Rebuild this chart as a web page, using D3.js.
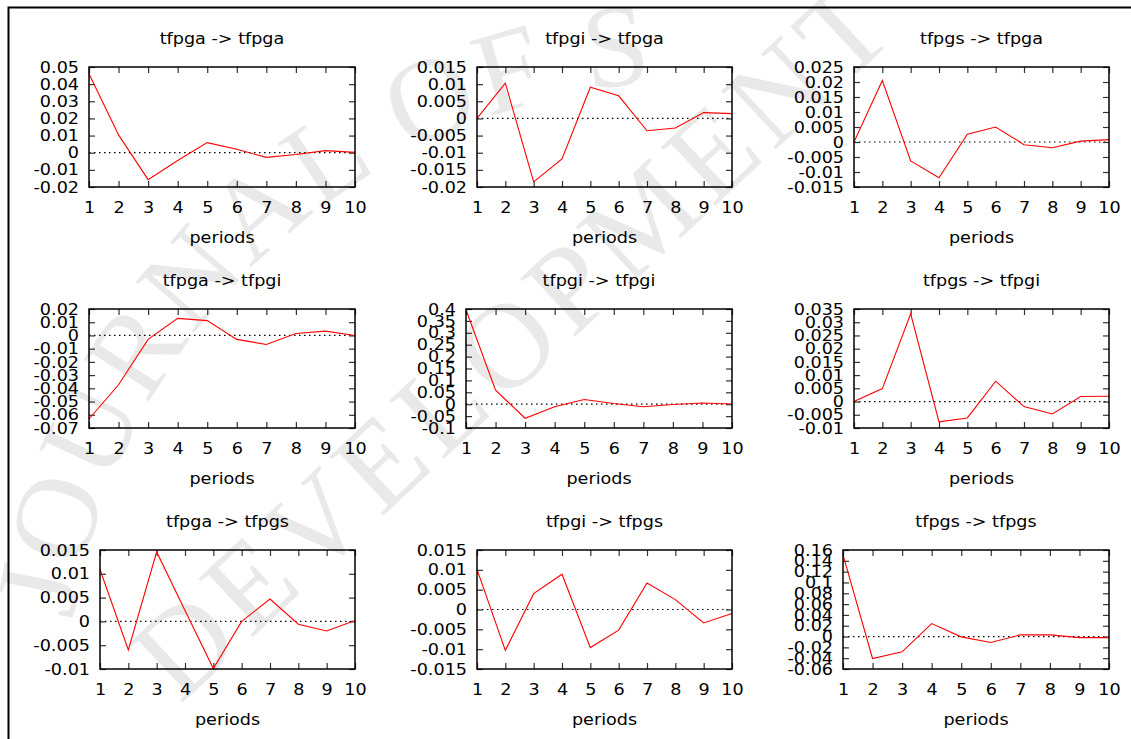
<!DOCTYPE html>
<html>
<head>
<meta charset="utf-8">
<script src="https://cdn.jsdelivr.net/npm/d3@7"></script>
<style>
  html, body { margin: 0; padding: 0; background: #fff; }
  svg { display: block; }
  text { font-family: "DejaVu Sans", Verdana, sans-serif; font-size: 16px; fill: #000; }
</style>
</head>
<body>
<svg id="chart" width="1131" height="739"></svg>
<script>
// ---------------- data ----------------
const periods = [1, 2, 3, 4, 5, 6, 7, 8, 9, 10];
const variables = ["tfpga", "tfpgi", "tfpgs"];

// response of row-variable to shock in column-variable
const tfpga_tfpga = [0.046, 0.0104, -0.0157, -0.0045, 0.0059, 0.002, -0.0027, -0.001, 0.0012, 0.0002];
const tfpgi_tfpga = [0, 0.0103, -0.0185, -0.0118, 0.0091, 0.0066, -0.0036, -0.0028, 0.0017, 0.0014];
const tfpgs_tfpga = [0, 0.0205, -0.0063, -0.0119, 0.0026, 0.005, -0.0009, -0.0019, 0.0003, 0.0008];
const tfpga_tfpgi = [-0.0632, -0.0373, -0.003, 0.0129, 0.0112, -0.003, -0.0068, 0.0015, 0.0033, 0];
const tfpgi_tfpgi = [0.397, 0.059, -0.059, -0.011, 0.02, 0.003, -0.011, -0.001, 0.005, 0.001];
const tfpgs_tfpgi = [0, 0.0049, 0.0332, -0.0077, -0.0062, 0.0077, -0.0019, -0.0047, 0.0019, 0.002];
const tfpga_tfpgs = [0.0109, -0.006, 0.0146, 0.0023, -0.0099, 0, 0.0047, -0.0006, -0.002, 0.0002];
const tfpgi_tfpgs = [0.0101, -0.0103, 0.004, 0.0089, -0.0096, -0.0052, 0.0067, 0.0025, -0.0034, -0.001];
const tfpgs_tfpgs = [0.151, -0.0406, -0.0283, 0.024, -0.0006, -0.011, 0.003, 0.003, -0.002, -0.002];

// y tick labels per panel
const ticks_a_a = ["-0.02", "-0.01", "0", "0.01", "0.02", "0.03", "0.04", "0.05"];
const ticks_i_a = ["-0.02", "-0.015", "-0.01", "-0.005", "0", "0.005", "0.01", "0.015"];
const ticks_s_a = ["-0.015", "-0.01", "-0.005", "0", "0.005", "0.01", "0.015", "0.02", "0.025"];
const ticks_a_i = ["-0.07", "-0.06", "-0.05", "-0.04", "-0.03", "-0.02", "-0.01", "0", "0.01", "0.02"];
const ticks_i_i = ["-0.1", "-0.05", "0", "0.05", "0.1", "0.15", "0.2", "0.25", "0.3", "0.35", "0.4"];
const ticks_s_i = ["-0.01", "-0.005", "0", "0.005", "0.01", "0.015", "0.02", "0.025", "0.03", "0.035"];
const ticks_a_s = ["-0.01", "-0.005", "0", "0.005", "0.01", "0.015"];
const ticks_i_s = ["-0.015", "-0.01", "-0.005", "0", "0.005", "0.01", "0.015"];
const ticks_s_s = ["-0.06", "-0.04", "-0.02", "0", "0.02", "0.04", "0.06", "0.08", "0.1", "0.12", "0.14", "0.16"];

const xLabel = "periods";

// panels in reading order (row = response, col = impulse)
const panelSeries = [
  [tfpga_tfpga, ticks_a_a], [tfpgi_tfpga, ticks_i_a], [tfpgs_tfpga, ticks_s_a],
  [tfpga_tfpgi, ticks_a_i], [tfpgi_tfpgi, ticks_i_i], [tfpgs_tfpgi, ticks_s_i],
  [tfpga_tfpgs, ticks_a_s], [tfpgi_tfpgs, ticks_i_s], [tfpgs_tfpgs, ticks_s_s]
];

// ---------------- layout ----------------
const plotLeft = [89, 477, 854, 89, 466, 854, 100, 477, 843];
const plotRight = [355, 732, 1109];
const plotTop = [67, 309, 550];
const plotBottom = [187, 428, 669];
const SX = 1.1; // horizontal glyph stretch

const svg = d3.select("#chart");

// ---------------- watermark ----------------
const wm = svg.append("g").attr("class", "watermark");
const cx = 705, cy = 720, r = 640;
const a0 = 189 * Math.PI / 180, a1 = 300 * Math.PI / 180;
wm.append("path").attr("id", "arc1").attr("fill", "none")
  .attr("d", `M${cx + r * Math.cos(a0)},${cy + r * Math.sin(a0)} A${r},${r} 0 0 1 ${cx + r * Math.cos(a1)},${cy + r * Math.sin(a1)}`);
wm.append("text")
  .style("font-family", "'Liberation Serif', 'DejaVu Serif', serif")
  .style("font-size", "118px").style("fill", "#e9e9e9").style("letter-spacing", "4px")
  .append("textPath").attr("href", "#arc1").text("JOURNAL OF S");
wm.append("text")
  .attr("transform", "translate(180,705) rotate(-43)")
  .style("font-family", "'Liberation Serif', 'DejaVu Serif', serif")
  .style("font-size", "122px").style("fill", "#e9e9e9").style("letter-spacing", "8px")
  .text("DEVELOPMENT");

// outer frame (left + top)
svg.append("path").attr("d", "M8.5,739 L8.5,7.5 L1131,7.5")
  .attr("fill", "none").attr("stroke", "#000").attr("stroke-width", 2);

function stretchText(sel) {
  sel.each(function () {
    const t = d3.select(this);
    const x = +t.attr("x") || 0;
    t.attr("x", x / SX).attr("transform", `scale(${SX},1)`);
  });
}

panelSeries.forEach(([values, tickLabels], i) => {
  const row = Math.floor(i / 3), col = i % 3;
  const x0 = plotLeft[i], x1 = plotRight[col];
  const y0 = plotTop[row], y1 = plotBottom[row];
  const w = x1 - x0, h = y1 - y0;
  const tickVals = tickLabels.map(Number);

  const x = d3.scaleLinear().domain([periods[0], periods[periods.length - 1]]).range([0, w]);
  const y = d3.scaleLinear().domain([d3.min(tickVals), d3.max(tickVals)]).range([h, 0]);

  const g = svg.append("g").attr("transform", `translate(${x0},${y0})`);

  // title
  g.append("text")
    .attr("transform", `translate(${w / 2},-23) scale(${SX},1)`)
    .attr("text-anchor", "middle")
    .text(`${variables[col]} -> ${variables[row]}`);

  // zero line (dotted)
  g.append("line")
    .attr("x1", 0).attr("x2", w).attr("y1", y(0)).attr("y2", y(0))
    .attr("stroke", "#000").attr("stroke-width", 1.2)
    .attr("stroke-dasharray", "1.5,3.5");

  // axes with inward mirrored ticks
  const fmt = (d) => tickLabels[tickVals.indexOf(d)];
  const yl = g.append("g").call(d3.axisLeft(y).tickValues(tickVals).tickFormat(fmt)
    .tickSize(-6).tickSizeOuter(0).tickPadding(10));
  const yr = g.append("g").attr("transform", `translate(${w},0)`)
    .call(d3.axisRight(y).tickValues(tickVals).tickFormat("").tickSize(-6).tickSizeOuter(0));
  const xb = g.append("g").attr("transform", `translate(0,${h})`)
    .call(d3.axisBottom(x).tickValues(periods).tickFormat(d3.format("d"))
      .tickSize(-6).tickSizeOuter(0).tickPadding(15));
  const xt = g.append("g")
    .call(d3.axisTop(x).tickValues(periods).tickFormat("").tickSize(-6).tickSizeOuter(0));

  [yl, yr, xb, xt].forEach(a => {
    a.select(".domain").remove();
    a.selectAll(".tick line").attr("stroke", "#333").attr("stroke-width", 1.2);
    a.selectAll("text").attr("font-family", null).attr("font-size", null).style("fill", "#000");
  });
  stretchText(yl.selectAll(".tick text"));
  stretchText(xb.selectAll(".tick text"));

  // response line
  const line = d3.line().x((d, k) => x(periods[k])).y(d => y(d));
  g.append("path").datum(values)
    .attr("d", line).attr("fill", "none").attr("stroke", "#ff0000").attr("stroke-width", 1.1);

  // frame
  g.append("rect").attr("x", 0).attr("y", 0).attr("width", w).attr("height", h)
    .attr("fill", "none").attr("stroke", "#000").attr("stroke-width", 1.5);

  // x label
  g.append("text")
    .attr("transform", `translate(${w / 2},${h + 56}) scale(${SX},1)`)
    .attr("text-anchor", "middle")
    .text(xLabel);
});
</script>
</body>
</html>
